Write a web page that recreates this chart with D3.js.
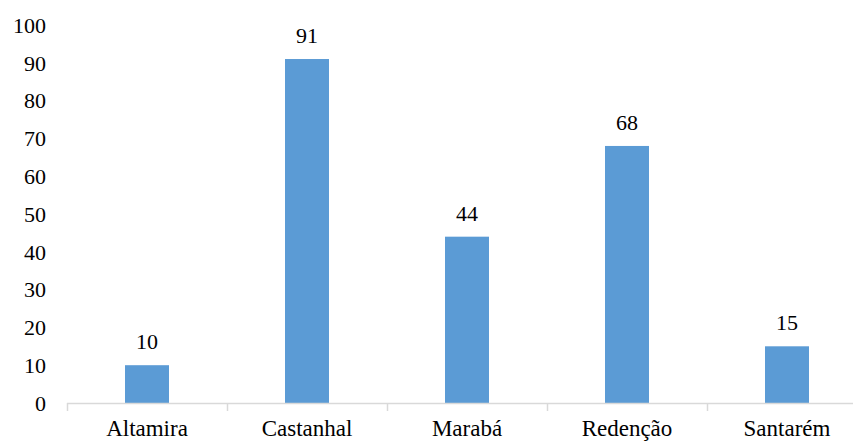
<!DOCTYPE html>
<html>
<head>
<meta charset="utf-8">
<script src="https://cdn.jsdelivr.net/npm/d3@7"></script>
<style>
  html, body { margin: 0; padding: 0; background: #fff; }
  svg { display: block; }
</style>
</head>
<body>
<svg id="chart" width="853" height="444"></svg>
<script>
// Number of records per campus
const categories = ["Altamira", "Castanhal", "Marabá", "Redenção", "Santarém"];
const values = [10, 91, 44, 68, 15];
const yTicks = [0, 10, 20, 30, 40, 50, 60, 70, 80, 90, 100];

const svg = d3.select("#chart");
const plotLeft = 67, plotRight = 867, plotTop = 25, plotBottom = 403;
const serif = "'Times New Roman', Times, 'Liberation Serif', Tinos, 'Noto Serif', 'DejaVu Serif', Georgia, serif";

const x = d3.scaleBand().domain(categories).range([plotLeft, plotRight]).padding(0);
const y = d3.scaleLinear().domain([0, 100]).range([plotBottom, plotTop]);
const barW = x.bandwidth() * 0.275;
const barColor = "#5B9BD5";
const axisColor = "#D9D9D9";

// Y tick labels (no axis line)
svg.append("g").selectAll("text")
  .data(yTicks)
  .join("text")
  .attr("x", 46)
  .attr("y", d => y(d))
  .attr("dy", "0.35em")
  .attr("text-anchor", "end")
  .style("font-family", serif)
  .attr("font-size", 22)
  .attr("fill", "#000")
  .text(d => d);

// Bars
svg.append("g").selectAll("rect")
  .data(categories.map((c, i) => ({ c, v: values[i] })))
  .join("rect")
  .attr("x", d => x(d.c) + (x.bandwidth() - barW) / 2)
  .attr("y", d => y(d.v))
  .attr("width", barW)
  .attr("height", d => y(0) - y(d.v))
  .attr("fill", barColor);

// Value labels
svg.append("g").selectAll("text")
  .data(categories.map((c, i) => ({ c, v: values[i] })))
  .join("text")
  .attr("x", d => x(d.c) + x.bandwidth() / 2)
  .attr("y", d => y(d.v) - 16)
  .attr("text-anchor", "middle")
  .style("font-family", serif)
  .attr("font-size", 22)
  .attr("fill", "#000")
  .text(d => d.v);

// X axis line and category boundary ticks
const xa = svg.append("g");
xa.append("line")
  .attr("x1", plotLeft).attr("x2", plotRight)
  .attr("y1", plotBottom + 0.5).attr("y2", plotBottom + 0.5)
  .attr("stroke", axisColor).attr("stroke-width", 1.5);
const bounds = categories.map(c => x(c)).concat([x(categories[categories.length - 1]) + x.bandwidth()]);
xa.selectAll("line.tick")
  .data(bounds)
  .join("line")
  .attr("class", "tick")
  .attr("x1", d => d + 0.5).attr("x2", d => d + 0.5)
  .attr("y1", plotBottom).attr("y2", plotBottom + 8)
  .attr("stroke", axisColor).attr("stroke-width", 1.5);

// Category labels
xa.selectAll("text")
  .data(categories)
  .join("text")
  .attr("x", d => x(d) + x.bandwidth() / 2)
  .attr("y", 436)
  .attr("text-anchor", "middle")
  .style("font-family", serif)
  .attr("font-size", 23)
  .attr("fill", "#000")
  .text(d => d);
</script>
</body>
</html>
